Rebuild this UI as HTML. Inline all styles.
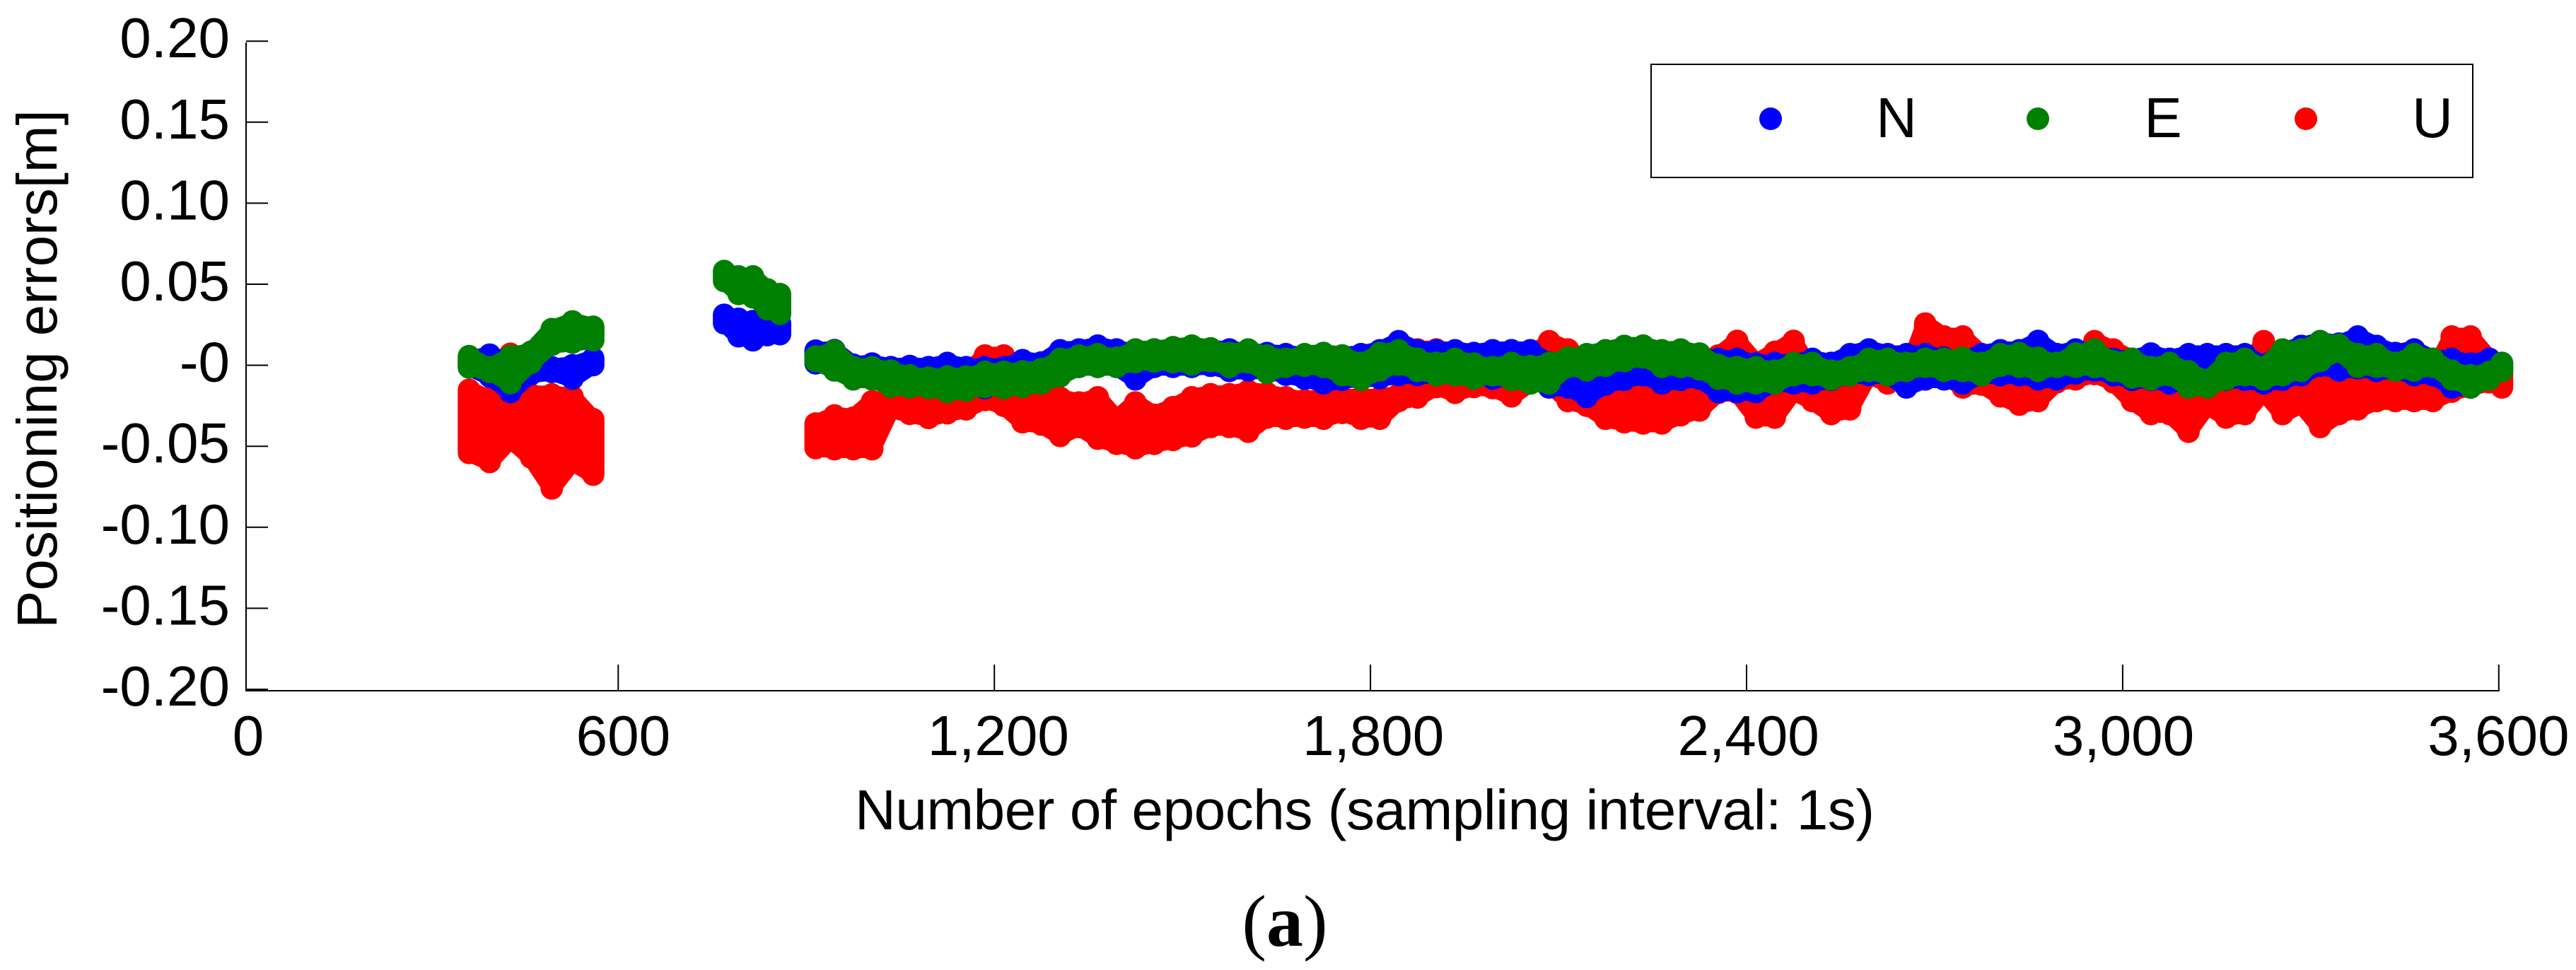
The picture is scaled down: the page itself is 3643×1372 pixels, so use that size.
<!DOCTYPE html>
<html lang="en">
<head>
<meta charset="utf-8">
<title>Positioning errors chart</title>
<style>
html,body{margin:0;padding:0;background:#fff;}
svg{display:block;}
text{font-family:"Liberation Sans",sans-serif;fill:#000;}
</style>
</head>
<body>
<svg id="chart" xmlns="http://www.w3.org/2000/svg" width="3643" height="1372" viewBox="0 0 3643 1372">
  <rect x="0" y="0" width="3643" height="1372" fill="#fff"/>
  <g id="series"></g>
  <g id="axes"></g>
  <text transform="translate(80,522) rotate(-90)" text-anchor="middle" font-size="80">Positioning errors[m]</text>
  <text x="1930" y="1173" text-anchor="middle" font-size="80" textLength="1442" lengthAdjust="spacing">Number of epochs (sampling interval: 1s)</text>
  <text x="1817" y="1338" text-anchor="middle" font-size="104" style="font-family:'Liberation Serif',serif">(<tspan font-weight="bold">a</tspan>)</text>
  <g>
    <rect x="2335" y="91" width="1162" height="160" fill="#fff" stroke="#000" stroke-width="2"/>
    <g>
      <circle cx="2504" cy="168" r="16" fill="#0000ff"/>
      <text x="2682" y="194" text-anchor="middle" font-size="80">N</text>
    </g>
    <g>
      <circle cx="2882" cy="168" r="16" fill="#008000"/>
      <text x="3059" y="194" text-anchor="middle" font-size="80">E</text>
    </g>
    <g>
      <circle cx="3261" cy="168" r="16" fill="#ff0000"/>
      <text x="3440" y="194" text-anchor="middle" font-size="80">U</text>
    </g>
  </g>
</svg>
<script>
const yTickValues = [0.20,0.15,0.10,0.05,0,-0.05,-0.10,-0.15,-0.20];
const yTickLabels = ['0.20','0.15','0.10','0.05','-0','-0.05','-0.10','-0.15','-0.20'];
const xTickValues = [0,600,1200,1800,2400,3000,3600];
const xTickLabels = ['0','600','1,200','1,800','2,400','3,000','3,600'];

const epochs = [362,395,428,461,494,527,560,
769,792,815,838,858,
915,945,975,1005,1035,1065,1095,1125,1155,1185,1215,1245,1275,1305,1335,1365,1395,1425,1455,1485,1515,1545,1575,1605,1635,1665,1695,1725,1755,1785,1815,1845,1875,1905,1935,1965,1995,2025,2055,2085,2115,2145,2175,2205,2235,2265,2295,2325,2355,2385,2415,2445,2475,2505,2535,2565,2595,2625,2655,2685,2715,2745,2775,2805,2835,2865,2895,2925,2955,2985,3015,3045,3075,3105,3135,3165,3195,3225,3255,3285,3315,3345,3375,3405,3435,3465,3495,3525,3555,3585,3605];

/* Upper and lower extent of each dense cluster of per-second fixes, in millimetres */
const northHighMm = [3,6.5,1.5,-1.3,-1.3,0,4.2,
31.1,28.6,27.2,22,19.2,
9,9.3,.3,1,-1.2,-.5,-1.2,1.4,-1.2,-1.2,-1.2,3.1,1.7,9.2,9.7,12.1,9.7,8.2,9.7,9.7,9.7,9.7,9.7,8.2,7.5,6.8,6,7.5,6,6.8,9.2,14.8,9.2,9.2,9.2,7.5,9.2,9.2,9.2,1.7,3.9,5,5,5,5,5,5,5,3.9,3.9,1,1.4,1.4,3.9,1.4,6.8,9.7,6.8,6.8,6.8,4.6,3.9,6.8,9.2,9.2,15,6.8,9.7,8.2,3.9,3.9,7.2,3.9,6.8,6.8,6.8,6.8,.2,8.9,11.9,14.8,13.3,17.7,11.9,7.5,9.7,3.9,3.9,1,3.9,1.4];
const northLowMm = [-1.3,-6.9,-16.6,-5.5,-4.1,-8.3,.1,
25.9,17.9,15.4,18.6,25.9,
1.2,-1.7,-6,-6,-10.4,-6,-6,-8,-8,-14.1,-8,-8,-8,-5,-1,-1,-1,-8.7,-1,-1,-1,-.3,-3.5,-3.2,-3.2,-5.8,-8.3,-11.2,-9,-8,-8,-6,-6,-6,-6,-6,-8.3,-8,-8,-13.7,-13.7,-19.5,-11.9,-9,-6.1,-11.2,-9,-8.3,-16.6,-16.6,-16.6,-11.2,-11.2,-11.2,-9,-6.1,-6,-6.1,-13.7,-8.7,-8.7,-11.2,-6.1,-6.1,-6.1,-8.7,-8.7,-5,-3.2,-6.1,-9,-9,-11.2,-9,-9,-9,-9,-11.2,-9,-6.1,-.3,-3.2,-1.8,-3.5,-3.2,-6.1,-6.1,-13.7,-13.7,-6.1,-3.5];

const eastHighMm = [5.6,-1.3,5.6,8.4,22.3,27,23.7,
58.1,54.8,54.8,46.8,43.9,
5.4,9,-1.2,-1.2,-3.4,-6.3,-7.7,-7,-7,-4.1,-4.1,-3.8,-2.4,3.9,6,6.8,4.6,9.7,9.7,11.1,12.1,10.4,7.5,9.7,6,3.9,6.8,7.5,6,1.4,7.5,9.2,3.9,1.4,3.9,1,-1.2,1.4,-.5,1.4,4.6,6.8,9.2,11.9,12.1,9.2,9.7,7.2,.2,-1.2,-1.2,-3.4,1.4,1.4,-3.4,-1.2,3.9,3.9,1.4,3.9,3.9,4.6,1.4,6.8,7.5,4.6,1.4,7.2,9.7,2.4,3.9,-1.2,1.4,-3.8,-9.2,1.4,3.9,-1.2,9.7,9.7,14.8,12.6,6.8,6.8,1.4,6.8,3.9,-3.4,-6.3,-4.1,1.4];
const eastLowMm = [-1.3,-4.1,-11,1.5,12.6,14,15.4,
52,44,41.9,34.6,31.7,
2.6,-3.2,-8.7,-8.7,-13.3,-13.6,-14,-16.5,-15.6,-13.4,-14.1,-13.4,-11.2,-6.8,-1,-1,-1,1.9,2.3,1.9,.4,2.6,-1,1.9,-4.7,-1,-.3,-1,-6.1,-9,-3.2,.4,-3.5,-6.1,-6.1,-8.3,-6.1,-9,-11.2,-11.2,-1,-3.2,-.3,2.6,4.8,-1,-1,-2.5,-8.3,-11.2,-11.2,-11.2,-6.1,-6.1,-8.7,-6.1,-3.5,-6.1,-3.5,-1,-3.5,-3.5,-6.1,-.3,-1,-3.5,-1,-1,-1,-3.5,-7.6,-8.7,-6.1,-13.7,-13.7,-8.7,-6.1,-8.7,-6.1,-3.5,2.6,8.4,-1,-1,-3.2,-3.2,-1,-8.7,-13.7,-8.7,-3.5];

const upHighMm = [-15.2,-20.8,7,-18,-18,-19.4,-33.3,
null,null,null,null,null,
-36,-31,-32.4,-22.3,-20,-20,-20,-20,-5.6,6,6,-10,-10,-20.1,-23,-19.8,-33.2,-23,-30.6,-25.9,-19.8,-17.9,-17.9,-15.8,-17.2,-19.8,-21.6,-20,-20,-20,-20,-18,9.7,9.7,-5,-5,-5,9.2,5,14.8,9.7,3,-5,-5,-5,-5,-5,2,6,15,1.7,8.2,15,-5,-5,-5,-5,-5,-5,25.7,17.7,17.7,6.8,4,0,0,0,0,14.8,9.7,3.9,-5,-5,-5,-5,-5,-5,14.8,-5,-5,-5,-5,-5,-5,-5,-5,-5,17.7,17.7,3.9,-3];
const upLowMm = [-54.1,-59.7,-45.8,-56.9,-76,-59.7,-67.5,
null,null,null,null,null,
-51.1,-51.8,-51.8,-51.8,-27.1,-30,-32.5,-29.6,-27.2,-21.4,-25,-35.2,-36.6,-43.6,-38.1,-45.3,-48.5,-51.2,-48.5,-46.1,-43.9,-38.1,-38.1,-41,-32.3,-33,-32.3,-33,-29.4,-33,-33,-22.1,-19.9,-13.4,-17,-13.4,-14.1,-19.2,-11.2,-11.2,-22.1,-25,-33,-35.2,-35.9,-35.9,-30.8,-27.9,-17,-17,-32.3,-32.3,-16.3,-22.1,-30.1,-27.2,-6.1,-11.2,-9,-8.7,-6,-13.7,-11.9,-19.2,-24.3,-22.1,-10.5,-8.7,-5.4,-10.5,-22.1,-30.1,-30.1,-41,-25,-32.3,-30.1,-16.3,-30.1,-24.3,-38.1,-30.1,-27.2,-22.1,-22.1,-22.1,-22.1,-16.3,-13.7,-10.5,-13.7];

const svgNS = 'http://www.w3.org/2000/svg';
const axisLeft = 348;
const axisBottom = 977;
function xScale(e){ return 342.4 + 0.8865 * e; }
function xLabelScale(e){ return 351 + 0.884 * e; }
function yScale(v){ return 516.6 - 2292 * v; }
function make(tag, attrs, parent){
  const node = document.createElementNS(svgNS, tag);
  for (const k in attrs) node.setAttribute(k, attrs[k]);
  parent.appendChild(node);
  return node;
}

const seriesGroup = document.getElementById('series');
const axesGroup = document.getElementById('axes');

function drawBand(name, color, highs, lows, group, indices){
  if (indices.length < 2) return;
  const top = indices.map(function(i){ return xScale(epochs[i]) + ',' + yScale(highs[i] / 1000); });
  const bottom = indices.slice().reverse().map(function(i){ return xScale(epochs[i]) + ',' + yScale(lows[i] / 1000); });
  const band = make('polygon', {
    points: top.concat(bottom).join(' '),
    fill: color, stroke: color, 'stroke-width': 25, 'stroke-linejoin': 'round'
  }, group);
  
  
}

function drawSeries(name, color, highs, lows){
  const group = make('g', {}, seriesGroup);
  
  
  let run = [];
  epochs.forEach(function(e, i){
    if (highs[i] === null || lows[i] === null) return;
    if (run.length && e - epochs[run[run.length - 1]] > 45) {
      drawBand(name, color, highs, lows, group, run);
      run = [];
    }
    run.push(i);
  });
  drawBand(name, color, highs, lows, group, run);
  epochs.forEach(function(e, i){
    if (highs[i] === null || lows[i] === null) return;
    const mark = make('line', {
      x1: xScale(e), x2: xScale(e),
      y1: yScale(highs[i] / 1000), y2: yScale(lows[i] / 1000),
      stroke: color, 'stroke-width': 32, 'stroke-linecap': 'round'
    }, group);
    
    
  });
}
drawSeries('up', '#ff0000', upHighMm, upLowMm);
drawSeries('north', '#0000ff', northHighMm, northLowMm);
drawSeries('east', '#008000', eastHighMm, eastLowMm);

const yAxisLine = make('line', {x1: axisLeft, x2: axisLeft, y1: 60, y2: axisBottom + 1, stroke: '#000', 'stroke-width': 2}, axesGroup);


const xAxisLine = make('line', {x1: axisLeft - 1, x2: xScale(3600) + 1, y1: axisBottom, y2: axisBottom, stroke: '#000', 'stroke-width': 2}, axesGroup);



yTickValues.forEach(function(v, i){
  const y = yScale(v);
  const tick = make('line', {x1: axisLeft, x2: axisLeft + 31, y1: y, y2: y, stroke: '#000', 'stroke-width': 2}, axesGroup);
  
  
  const label = make('text', {x: 325, y: y + 23, 'text-anchor': 'end', 'font-size': 80}, axesGroup);
  label.textContent = yTickLabels[i];
  
  
});

xTickValues.forEach(function(e, i){
  const x = Math.max(xScale(e), axisLeft);
  const tick = make('line', {x1: x, x2: x, y1: axisBottom - 37, y2: axisBottom, stroke: '#000', 'stroke-width': 2}, axesGroup);
  
  
  const label = make('text', {x: xLabelScale(e), y: 1068, 'text-anchor': 'middle', 'font-size': 80}, axesGroup);
  label.textContent = xTickLabels[i];
  
  
});
</script>
</body>
</html>
